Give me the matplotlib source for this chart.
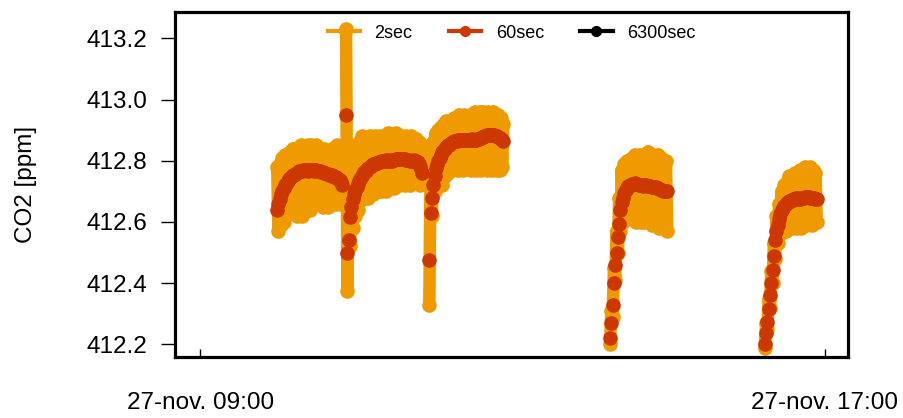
import numpy as np
import pandas as pd
import matplotlib
matplotlib.use("Agg")
import matplotlib.pyplot as plt
from matplotlib.lines import Line2D

plt.rcParams["font.family"] = ["Liberation Sans", "DejaVu Sans"]

# colours of the three averaging intervals
col_2s = "#EE9A00"
col_60s = "#CD3700"
col_6300s = "#000000"

# start time of each measurement block, samples are one minute apart
block_start = ["2019-11-27 09:59", "2019-11-27 10:52", "2019-11-27 11:56",
               "2019-11-27 14:15", "2019-11-27 16:14"]

# 60 s means per block
co2_60s_1 = [412.638, 412.66, 412.675, 412.69, 412.70, 412.71, 412.72, 412.725, 412.735,
             412.74, 412.745, 412.75, 412.752, 412.755, 412.758, 412.76, 412.762, 412.765,
             412.766, 412.768, 412.769, 412.77, 412.77, 412.77, 412.768, 412.77, 412.769,
             412.77, 412.768, 412.769, 412.77, 412.768, 412.767, 412.765, 412.763, 412.762,
             412.76, 412.76, 412.758, 412.757, 412.755, 412.753, 412.752, 412.75, 412.748,
             412.748, 412.745, 412.742, 412.738, 412.73, 412.72]
co2_60s_2 = [412.95, 412.50, 412.54, 412.615, 412.65, 412.675, 412.69, 412.705, 412.715,
             412.725, 412.735, 412.742, 412.75, 412.756, 412.762, 412.767, 412.772, 412.776,
             412.78, 412.783, 412.786, 412.788, 412.79, 412.792, 412.794, 412.795, 412.797,
             412.798, 412.80, 412.80, 412.80, 412.801, 412.80, 412.802, 412.80, 412.80,
             412.802, 412.804, 412.805, 412.806, 412.806, 412.805, 412.806, 412.807, 412.806,
             412.805, 412.804, 412.803, 412.802, 412.80, 412.80, 412.80, 412.801, 412.80,
             412.798, 412.795, 412.79, 412.78, 412.76]
co2_60s_3 = [412.475, 412.63, 412.68, 412.72, 412.75, 412.775, 412.79, 412.80, 412.81,
             412.82, 412.828, 412.834, 412.84, 412.845, 412.85, 412.853, 412.856, 412.859,
             412.862, 412.864, 412.865, 412.866, 412.867, 412.868, 412.868, 412.867, 412.868,
             412.869, 412.868, 412.867, 412.868, 412.868, 412.869, 412.87, 412.869, 412.868,
             412.869, 412.87, 412.872, 412.874, 412.876, 412.878, 412.88, 412.882, 412.883,
             412.884, 412.885, 412.885, 412.884, 412.884, 412.883, 412.882, 412.88, 412.878,
             412.875, 412.872, 412.869, 412.866]
co2_60s_4 = [412.22, 412.27, 412.33, 412.40, 412.46, 412.50, 412.55, 412.595, 412.64,
             412.665, 412.68, 412.695, 412.705, 412.712, 412.717, 412.72, 412.722, 412.724,
             412.725, 412.726, 412.725, 412.724, 412.722, 412.72, 412.72, 412.719, 412.72,
             412.721, 412.72, 412.718, 412.717, 412.716, 412.715, 412.715, 412.714, 412.713,
             412.712, 412.71, 412.708, 412.706, 412.704, 412.702, 412.70, 412.70, 412.70]
co2_60s_5 = [412.20, 412.236, 412.274, 412.317, 412.36, 412.40, 412.443, 412.49, 412.54,
             412.57, 412.59, 412.61, 412.625, 412.638, 412.646, 412.652, 412.658, 412.662,
             412.666, 412.668, 412.67, 412.672, 412.674, 412.676, 412.677, 412.678, 412.676,
             412.675, 412.677, 412.679, 412.68, 412.682, 412.683, 412.682, 412.681, 412.68,
             412.679, 412.678, 412.677, 412.676, 412.675]

# 2 s readings, one high and one low value per minute in turn
co2_2s_1 = [412.78, 412.57, 412.79, 412.59, 412.81, 412.60, 412.82, 412.64, 412.81, 412.66,
            412.83, 412.65, 412.84, 412.63, 412.84, 412.62, 412.83, 412.64, 412.85, 412.62,
            412.83, 412.64, 412.84, 412.65, 412.85, 412.64, 412.85, 412.66, 412.84, 412.66,
            412.85, 412.67, 412.84, 412.66, 412.83, 412.65, 412.84, 412.66, 412.83, 412.65,
            412.83, 412.66, 412.84, 412.67, 412.83, 412.66, 412.85, 412.67, 412.84, 412.66,
            412.83]
co2_2s_2 = [413.23, 412.375, 412.80, 412.52, 412.80, 412.58, 412.82, 412.62, 412.84, 412.64,
            412.86, 412.67, 412.88, 412.68, 412.87, 412.69, 412.87, 412.68, 412.88, 412.70,
            412.87, 412.69, 412.88, 412.70, 412.87, 412.70, 412.88, 412.70, 412.87, 412.71,
            412.88, 412.70, 412.89, 412.71, 412.88, 412.72, 412.88, 412.71, 412.89, 412.72,
            412.88, 412.72, 412.88, 412.73, 412.87, 412.72, 412.88, 412.73, 412.87, 412.72,
            412.88, 412.73, 412.87, 412.73, 412.87, 412.73, 412.86, 412.72, 412.85]
co2_2s_3 = [412.33, 412.80, 412.62, 412.86, 412.70, 412.89, 412.73, 412.90, 412.74, 412.91,
            412.72, 412.92, 412.75, 412.93, 412.76, 412.92, 412.77, 412.93, 412.78, 412.94,
            412.78, 412.94, 412.77, 412.95, 412.78, 412.94, 412.77, 412.95, 412.78, 412.94,
            412.78, 412.95, 412.77, 412.95, 412.78, 412.96, 412.77, 412.95, 412.78, 412.96,
            412.77, 412.96, 412.78, 412.95, 412.77, 412.96, 412.78, 412.95, 412.77, 412.96,
            412.78, 412.95, 412.77, 412.95, 412.77, 412.94, 412.78, 412.92]
co2_2s_4 = [412.20, 412.31, 412.29, 412.45, 412.41, 412.57, 412.50, 412.68, 412.57, 412.77,
            412.60, 412.79, 412.62, 412.80, 412.62, 412.80, 412.61, 412.81, 412.62, 412.82,
            412.60, 412.81, 412.61, 412.82, 412.60, 412.81, 412.60, 412.82, 412.61, 412.83,
            412.60, 412.81, 412.59, 412.82, 412.60, 412.81, 412.59, 412.82, 412.58, 412.81,
            412.59, 412.80, 412.58, 412.80, 412.57]
co2_2s_5 = [412.19, 412.27, 412.25, 412.35, 412.32, 412.44, 412.40, 412.53, 412.48, 412.62,
            412.53, 412.66, 412.56, 412.70, 412.57, 412.72, 412.57, 412.73, 412.58, 412.75,
            412.58, 412.75, 412.59, 412.76, 412.58, 412.76, 412.59, 412.77, 412.58, 412.77,
            412.60, 412.78, 412.59, 412.77, 412.60, 412.78, 412.59, 412.77, 412.60, 412.76,
            412.60]

# 6300 s means
time_6300s = ["2019-11-27 10:25", "2019-11-27 11:25", "2019-11-27 12:25",
              "2019-11-27 14:37", "2019-11-27 16:35"]
co2_6300s = [412.77, 412.80, 412.87, 412.72, 412.68]

x_ticks = ["2019-11-27 09:00", "2019-11-27 17:00"]
x_tick_labels = ["27-nov. 09:00", "27-nov. 17:00"]
y_ticks = [412.2, 412.4, 412.6, 412.8, 413.0, 413.2]

series_60s = [co2_60s_1, co2_60s_2, co2_60s_3, co2_60s_4, co2_60s_5]
series_2s = [co2_2s_1, co2_2s_2, co2_2s_3, co2_2s_4, co2_2s_5]


def block_times(start, n):
    return pd.Timestamp(start) + pd.to_timedelta(np.arange(n), unit="min")


fig = plt.figure(figsize=(9.04, 4.18), dpi=100)
ax = fig.add_axes([175 / 904, 1 - 357 / 418, 673 / 904, 345 / 418])

ax.plot(pd.to_datetime(time_6300s), co2_6300s, "o", color=col_6300s, ms=9, zorder=1)
# the 2 s series is dense enough that its connecting lines fill the band
for start, vals in zip(block_start, series_2s):
    ax.plot(block_times(start, len(vals)), vals, "-o", color=col_2s, lw=9,
            ms=9.5, solid_joinstyle="round", solid_capstyle="round", zorder=2)
for start, vals in zip(block_start, series_60s):
    ax.plot(block_times(start, len(vals)), vals, "o", color=col_60s, ms=9.5, zorder=3)

ax.set_xlim(pd.Timestamp("2019-11-27 08:40:24"), pd.Timestamp("2019-11-27 17:18:00"))
ax.set_ylim(412.159, 413.286)

ax.set_xticks(pd.to_datetime(x_ticks))
ax.set_xticklabels(x_tick_labels)
ax.set_yticks(y_ticks)
ax.set_yticklabels([f"{v:.1f}" for v in y_ticks])
ax.tick_params(axis="x", direction="in", length=6, width=1, labelsize=17.5, pad=25)
ax.tick_params(axis="y", direction="out", length=10, width=1, labelsize=17.5, pad=10)
for sp in ax.spines.values():
    sp.set_linewidth(2.3)

ax.set_ylabel("CO2 [ppm]", fontsize=17.5)
ax.yaxis.set_label_coords(-0.205, 0.5)

handles = [Line2D([], [], color=c, lw=3, marker="o", ms=7) for c in (col_2s, col_60s, col_6300s)]
ax.legend(handles, ["2sec", "60sec", "6300sec"], loc="center", bbox_to_anchor=(0.5, 0.939),
          ncol=3, frameon=False, fontsize=13, handlelength=1.8, handletextpad=0.8,
          columnspacing=2.0)

fig.savefig("out.png", dpi=100)
